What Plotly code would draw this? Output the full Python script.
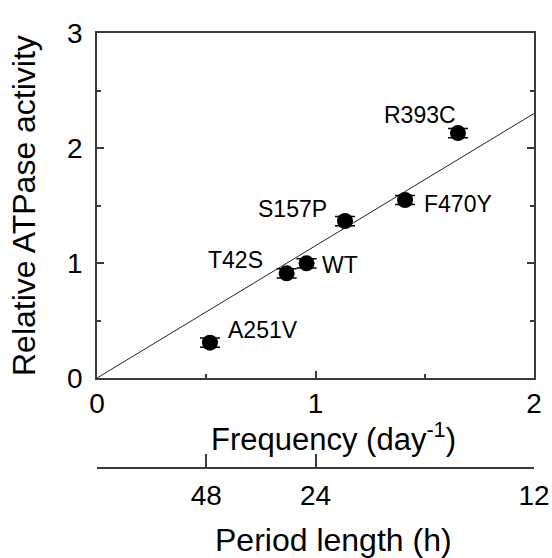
import plotly.graph_objects as go

# Data
mutants = ["A251V", "T42S", "WT", "S157P", "F470Y", "R393C"]
frequency = [0.517, 0.868, 0.959, 1.135, 1.41, 1.652]
activity = [0.307, 0.91, 0.997, 1.365, 1.548, 2.13]
activity_err = [0.04, 0.04, 0.04, 0.04, 0.04, 0.04]

fit_x = [0, 2]
fit_y = [0, 2.3]

label_x = [0.59, 0.769, 1.02, 1.062, 1.487, 1.478]
label_y = [0.417, 1.026, 0.983, 1.47, 1.513, 2.29]
label_anchor = ["left", "right", "left", "right", "left", "center"]

freq_ticks = [0, 1, 2]
freq_ticktext = ["0", "1", "2"]
act_ticks = [0, 1, 2, 3]
act_ticktext = ["0", "1", "2", "3"]
period_tickpos = [0, 0.5, 1, 2]          # frequency positions (1/day)
period_ticktext = ["", "48", "24", "12"]  # period (h)

FONT = "Liberation Sans, Arial, Helvetica, sans-serif"
AXC = "#3a3a3a"

W, H = 552, 558
ml, mr, mt, mb = 97, 18, 33, 90
pw, ph = W - ml - mr, H - mt - mb


def px2paper_x(px):
    return (px - ml) / pw


def px2paper_y(py):
    return (H - mb - py) / ph


fig = go.Figure()

fig.add_trace(go.Scatter(
    x=fit_x, y=fit_y, mode="lines",
    line=dict(color="#222", width=1), showlegend=False, hoverinfo="skip"))

fig.add_trace(go.Scatter(
    x=frequency, y=activity, mode="markers",
    marker=dict(color="black", size=16),
    error_y=dict(type="data", array=activity_err, color="black", thickness=1.5, width=10),
    showlegend=False))

fig.add_trace(go.Scatter(x=[None], y=[None], xaxis="x2", yaxis="y",
                         showlegend=False, hoverinfo="skip"))

for name, lx, ly, anc in zip(mutants, label_x, label_y, label_anchor):
    fig.add_annotation(x=lx, y=ly, xref="x", yref="y", text=name, showarrow=False,
                       xanchor=anc, yanchor="middle",
                       font=dict(family=FONT, size=23, color="black"))

fig.add_annotation(x=px2paper_x(333), y=px2paper_y(437), xref="paper", yref="paper",
                   text="Frequency (day<sup>-1</sup>)", showarrow=False,
                   xanchor="center", yanchor="middle",
                   font=dict(family=FONT, size=31, color="black"))
fig.add_annotation(x=px2paper_x(333), y=px2paper_y(540), xref="paper", yref="paper",
                   text="Period length (h)", showarrow=False,
                   xanchor="center", yanchor="middle",
                   font=dict(family=FONT, size=32, color="black"))
fig.add_annotation(x=px2paper_x(24), y=px2paper_y(206), xref="paper", yref="paper",
                   text="Relative ATPase activity", showarrow=False, textangle=-90,
                   xanchor="center", yanchor="middle",
                   font=dict(family=FONT, size=32, color="black"))

ydom_bottom = (468 - 378) / ph

fig.update_layout(
    width=W, height=H,
    margin=dict(l=ml, r=mr, t=mt, b=mb, autoexpand=False),
    paper_bgcolor="white", plot_bgcolor="white",
    font=dict(family=FONT, color="black"),
    xaxis=dict(range=[0, 2], tickvals=freq_ticks, ticktext=freq_ticktext,
               ticks="inside", ticklen=7, tickwidth=1.5, tickcolor=AXC,
               minor=dict(dtick=0.5, tick0=0, ticks="inside", ticklen=4,
                          tickwidth=1.5, tickcolor=AXC, showgrid=False),
               showline=True, linecolor=AXC, linewidth=1.5, mirror=True,
               showgrid=False, zeroline=False, anchor="y", automargin=False,
               tickfont=dict(size=28, family=FONT, color="black"),
               ticklabelstandoff=0),
    yaxis=dict(range=[0, 3], tickvals=act_ticks, ticktext=act_ticktext,
               domain=[ydom_bottom, 1], automargin=False,
               ticks="inside", ticklen=7, tickwidth=1.5, tickcolor=AXC,
               minor=dict(dtick=0.5, tick0=0, ticks="inside", ticklen=4,
                          tickwidth=1.5, tickcolor=AXC, showgrid=False),
               showline=True, linecolor=AXC, linewidth=1.5, mirror="ticks",
               showgrid=False, zeroline=False,
               tickfont=dict(size=28, family=FONT, color="black"),
               ticklabelstandoff=7),
    xaxis2=dict(range=[0, 2], tickvals=period_tickpos, ticktext=period_ticktext,
                overlaying="x", anchor="free", position=0, side="bottom",
                ticks="inside", ticklen=13, tickwidth=1.5, tickcolor=AXC,
                showline=True, linecolor=AXC, linewidth=1.5, automargin=False,
                showgrid=False, zeroline=False,
                tickfont=dict(size=28, family=FONT, color="black"),
                ticklabelstandoff=3),
)

fig.write_html("out.html")
